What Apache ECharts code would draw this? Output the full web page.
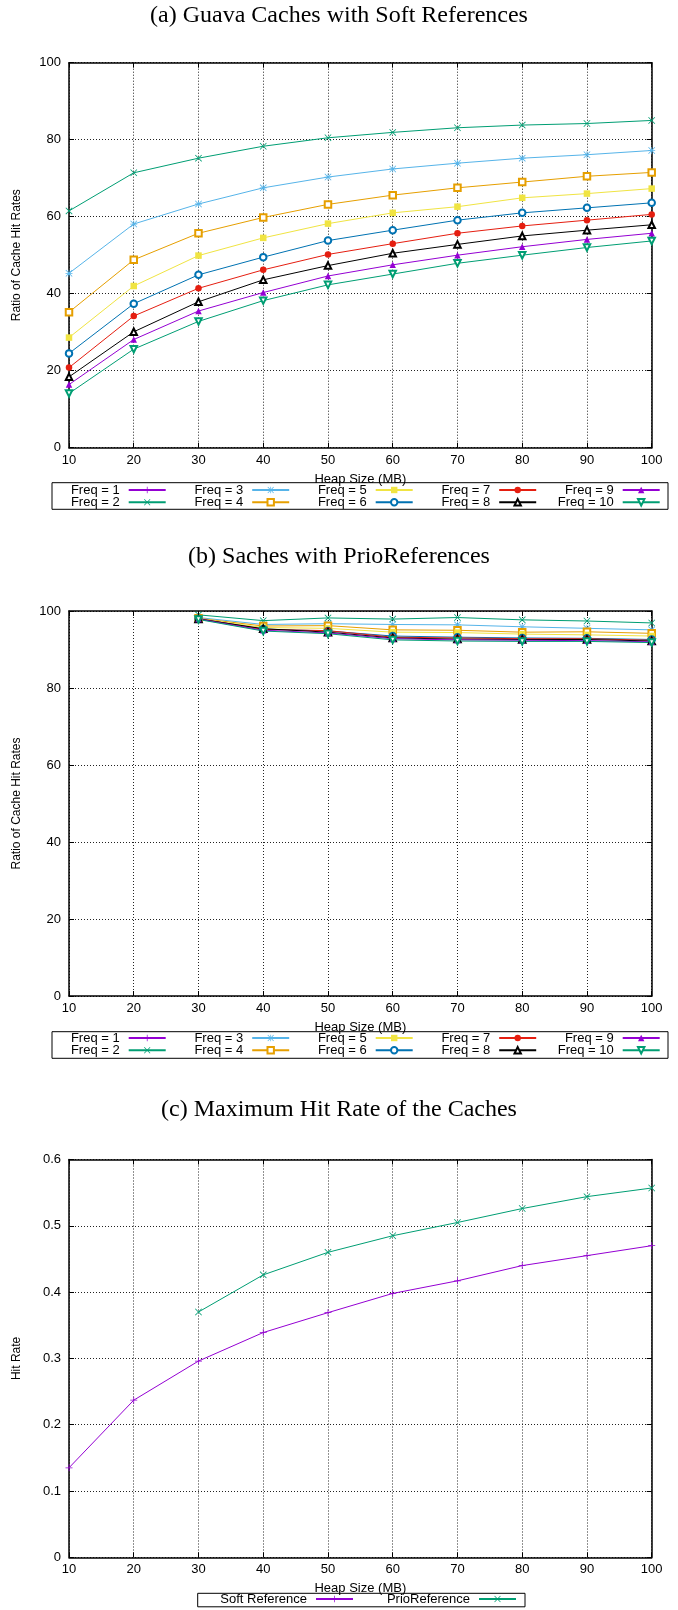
<!DOCTYPE html>
<html>
<head>
<meta charset="utf-8">
<script src="https://cdn.jsdelivr.net/npm/echarts@6/dist/echarts.min.js"></script>
<style>
html,body{margin:0;padding:0;background:#fff;}
#chart{width:678px;height:1610px;}
</style>
</head>
<body>
<div id="chart"></div>
<script>
// ---------- data ----------
const heapSizes = [10, 20, 30, 40, 50, 60, 70, 80, 90, 100];
const freqNames = ['Freq = 1','Freq = 2','Freq = 3','Freq = 4','Freq = 5','Freq = 6','Freq = 7','Freq = 8','Freq = 9','Freq = 10'];

// (a) Guava caches with soft references (ratio of cache hit rates, %)
const softFreq1 = [];
const softFreq2 = [61.5, 71.4, 75.2, 78.3, 80.5, 81.9, 83.1, 83.8, 84.2, 85.0];
const softFreq3 = [45.3, 58.1, 63.3, 67.5, 70.3, 72.4, 73.9, 75.2, 76.1, 77.2];
const softFreq4 = [35.2, 48.8, 55.7, 59.8, 63.2, 65.6, 67.5, 69.0, 70.5, 71.5];
const softFreq5 = [28.6, 42.0, 49.9, 54.5, 58.2, 61.0, 62.6, 64.9, 66.0, 67.3];
const softFreq6 = [24.5, 37.4, 44.9, 49.5, 53.8, 56.5, 59.1, 61.0, 62.3, 63.6];
const softFreq7 = [20.8, 34.2, 41.4, 46.2, 50.2, 53.0, 55.7, 57.6, 59.1, 60.6];
const softFreq8 = [18.4, 30.1, 37.9, 43.6, 47.3, 50.5, 52.8, 55.0, 56.5, 57.9];
const softFreq9 = [16.4, 28.1, 35.5, 40.3, 44.6, 47.5, 50.0, 52.2, 54.1, 55.7];
const softFreq10 = [14.1, 25.6, 32.8, 38.2, 42.3, 45.1, 47.9, 50.0, 52.0, 53.7];

// (b) Saches with PrioReferences (ratio of cache hit rates, %)
const prioFreq1 = [];
const prioFreq2 = [null, null, 99.0, 97.5, 98.2, 97.9, 98.3, 97.7, 97.4, 96.9];
const prioFreq3 = [null, null, 98.3, 96.5, 96.7, 96.5, 96.4, 95.9, 95.5, 95.1];
const prioFreq4 = [null, null, 98.1, 96.1, 96.2, 95.1, 95.0, 94.5, 94.6, 94.2];
const prioFreq5 = [null, null, 98.0, 95.7, 95.5, 94.5, 94.4, 94.0, 93.8, 93.5];
const prioFreq6 = [null, null, 98.0, 95.3, 94.8, 93.5, 93.2, 93.0, 92.9, 92.6];
const prioFreq7 = [null, null, 98.0, 95.2, 94.9, 93.2, 93.0, 92.8, 92.8, 92.4];
const prioFreq8 = [null, null, 97.9, 95.4, 94.5, 93.0, 92.7, 92.6, 92.6, 92.2];
const prioFreq9 = [null, null, 97.9, 95.0, 94.3, 92.8, 92.5, 92.4, 92.3, 92.0];
const prioFreq10 = [null, null, 97.8, 94.8, 94.1, 92.5, 92.2, 92.1, 92.1, 91.8];

// (c) Maximum hit rate of the caches
const maxSoftReference = [0.135, 0.237, 0.296, 0.339, 0.369, 0.398, 0.417, 0.440, 0.455, 0.470];
const maxPrioReference = [null, null, 0.370, 0.426, 0.460, 0.485, 0.505, 0.526, 0.544, 0.557];

const titles = ['(a) Guava Caches with Soft References', '(b) Saches with PrioReferences', '(c) Maximum Hit Rate of the Caches'];
const xAxisName = 'Heap Size (MB)';
const yAxisNames = ['Ratio of Cache Hit Rates', 'Ratio of Cache Hit Rates', 'Hit Rate'];

// ---------- styles ----------
const SANS = 'Liberation Sans';
const SERIF = 'Liberation Serif';
const PLUS = 'path://M8.9,0H11.1V8.9H20V11.1H11.1V20H8.9V11.1H0V8.9H8.9Z';
const CROSS = 'path://M0,1.6L1.6,0L10,8.4L18.4,0L20,1.6L11.6,10L20,18.4L18.4,20L10,11.6L1.6,20L0,18.4L8.4,10Z';
const STAR = 'path://M8.9,0H11.1V8.9H20V11.1H11.1V20H8.9V11.1H0V8.9H8.9Z M0,1.6L1.6,0L10,8.4L18.4,0L20,1.6L11.6,10L20,18.4L18.4,20L10,11.6L1.6,20L0,18.4L8.4,10Z';

const freqStyles = [
  {color:'#9400D3', symbol:PLUS, rot:0},
  {color:'#009E73', symbol:CROSS, rot:0},
  {color:'#56B4E9', symbol:STAR, rot:0},
  {color:'#E69F00', symbol:'emptyRect', rot:0},
  {color:'#F0E442', symbol:'rect', rot:0},
  {color:'#0072B2', symbol:'emptyCircle', rot:0},
  {color:'#E51E10', symbol:'circle', rot:0},
  {color:'#000000', symbol:'emptyTriangle', rot:0},
  {color:'#9400D3', symbol:'triangle', rot:0},
  {color:'#009E73', symbol:'emptyTriangle', rot:180}
];

function pairs(values) {
  return heapSizes.map((x, i) => [x, values[i]]).filter(p => p[1] !== undefined && p[1] !== null);
}

function makeSeries(name, values, gridIdx, st) {
  const isPath = st.symbol.indexOf('path://') === 0;
  const isEmpty = st.symbol.indexOf('empty') === 0;
  return {
    type: 'line', name: name, xAxisIndex: gridIdx, yAxisIndex: gridIdx,
    data: pairs(values),
    symbol: st.symbol, symbolSize: isPath ? 7 : 6.5, symbolRotate: st.rot,
    showSymbol: true, showAllSymbol: true,
    lineStyle: {color: st.color, width: 1},
    itemStyle: isEmpty ? {color: st.color, borderColor: st.color, borderWidth: 1} : {color: st.color, borderWidth: 0},
    emphasis: {disabled: true},
    animation: false
  };
}

const softAll = [softFreq1, softFreq2, softFreq3, softFreq4, softFreq5, softFreq6, softFreq7, softFreq8, softFreq9, softFreq10];
const prioAll = [prioFreq1, prioFreq2, prioFreq3, prioFreq4, prioFreq5, prioFreq6, prioFreq7, prioFreq8, prioFreq9, prioFreq10];

const series = [];
softAll.forEach((v, i) => series.push(makeSeries(freqNames[i], v, 0, freqStyles[i])));
prioAll.forEach((v, i) => series.push(makeSeries(freqNames[i], v, 1, freqStyles[i])));
series.push(makeSeries('Soft Reference', maxSoftReference, 2, {color:'#9400D3', symbol:PLUS, rot:0}));
series.push(makeSeries('PrioReference', maxPrioReference, 2, {color:'#009E73', symbol:CROSS, rot:0}));

// ---------- layout ----------
const grids = [
  {left:69, top:62.7, width:582.7, height:385},
  {left:69, top:611, width:582.7, height:385},
  {left:69, top:1159.5, width:582.7, height:397.8}
];
const yRanges = [{min:0, max:100, interval:20}, {min:0, max:100, interval:20}, {min:0, max:0.6, interval:0.1}];

const axisLineStyle = {color:'#000', width:1.5};
const gridLineStyle = {color:'#222', width:1, type:[1, 2]};
const tickFont = {fontFamily:SANS, fontSize:13, color:'#000'};

const xAxes = [], yAxes = [];
[0,1,2].forEach(i => {
  xAxes.push({
    type:'value', gridIndex:i, min:10, max:100, interval:10, position:'bottom',
    axisLine:{show:true, onZero:false, lineStyle:axisLineStyle},
    axisTick:{show:true, inside:true, length:5, lineStyle:{color:'#000', width:1}},
    axisLabel:Object.assign({show:true, margin:6}, tickFont),
    splitLine:{show:true, lineStyle:gridLineStyle},
    name:xAxisName, nameLocation:'middle', nameGap:25,
    nameTextStyle:{fontFamily:SANS, fontSize:13, color:'#000'}
  });
  yAxes.push({
    type:'value', gridIndex:i, min:yRanges[i].min, max:yRanges[i].max, interval:yRanges[i].interval, position:'left',
    axisLine:{show:true, onZero:false, lineStyle:axisLineStyle},
    axisTick:{show:true, inside:true, length:5, lineStyle:{color:'#000', width:1}},
    axisLabel:Object.assign({show:true, margin:8}, tickFont),
    splitLine:{show:true, lineStyle:gridLineStyle},
    name:yAxisNames[i], nameLocation:'middle', nameGap:46, nameRotate:90,
    nameTextStyle:{fontFamily:SANS, fontSize:12, color:'#000'}
  });
});
// mirrored border axes (top / right) with inward ticks
[0,1,2].forEach(i => {
  xAxes.push({
    type:'value', gridIndex:i, min:10, max:100, interval:10, position:'top',
    axisLine:{show:true, onZero:false, lineStyle:axisLineStyle},
    axisTick:{show:true, inside:true, length:5, lineStyle:{color:'#000', width:1}},
    axisLabel:{show:false}, splitLine:{show:false}
  });
  yAxes.push({
    type:'value', gridIndex:i, min:yRanges[i].min, max:yRanges[i].max, interval:yRanges[i].interval, position:'right',
    axisLine:{show:true, onZero:false, lineStyle:axisLineStyle},
    axisTick:{show:true, inside:true, length:5, lineStyle:{color:'#000', width:1}},
    axisLabel:{show:false}, splitLine:{show:false}
  });
});

// one legend per entry, anchored at the right end of its line sample (text right-aligned before it)
function itemLegend(name, rightEdge, rowCenter) {
  return {
    show:true, orient:'horizontal', right:678 - rightEdge, top:rowCenter - 7.5, padding:0,
    itemWidth:37, itemHeight:8, align:'right', selectedMode:false,
    data:[name],
    textStyle:{fontFamily:SANS, fontSize:13, color:'#000', padding:[0,4,0,0]}
  };
}
const legends = [];
const freqLegendRows = [[491, 503.3], [1039, 1051.3]];
freqLegendRows.forEach(rows => {
  for (let k = 0; k < 5; k++) {
    const rightEdge = 166.7 + 123.5 * k;
    legends.push(itemLegend(freqNames[2 * k], rightEdge, rows[0]));
    legends.push(itemLegend(freqNames[2 * k + 1], rightEdge, rows[1]));
  }
});
legends.push(itemLegend('Soft Reference', 354, 1600));
legends.push(itemLegend('PrioReference', 517, 1600));

const titleTops = [3.5, 545, 1098];
const titleComps = titles.map((t, i) => ({
  text:t, left:'center', top:titleTops[i], padding:0,
  textStyle:{fontFamily:SERIF, fontSize:24, fontWeight:'normal', color:'#000'}
}));

const boxStyle = {fill:'none', stroke:'#000', lineWidth:1};
const graphics = [
  {type:'rect', shape:{x:52, y:482.7, width:616, height:26.6}, style:boxStyle, z:1},
  {type:'rect', shape:{x:52, y:1031.7, width:616, height:26.6}, style:boxStyle, z:1},
  {type:'rect', shape:{x:197.7, y:1593.3, width:327.3, height:13.5}, style:boxStyle, z:1}
];

const chart = echarts.init(document.getElementById('chart'), null, {renderer:'canvas'});
chart.setOption({
  animation:false,
  backgroundColor:'#fff',
  title:titleComps,
  grid:grids,
  xAxis:xAxes,
  yAxis:yAxes,
  legend:legends,
  graphic:graphics,
  series:series
});
</script>
</body>
</html>
